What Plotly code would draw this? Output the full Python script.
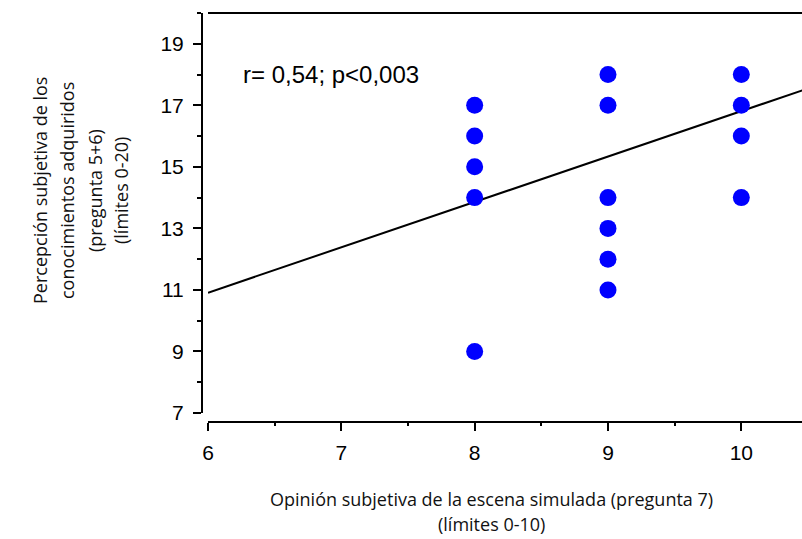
import plotly.graph_objects as go

# Data
opinion_x = [8, 8, 8, 8, 8, 9, 9, 9, 9, 9, 9, 10, 10, 10, 10]
percepcion_y = [17, 16, 15, 14, 9, 18, 17, 14, 13, 12, 11, 18, 17, 16, 14]

# Regression line (y = intercept + slope * x)
trend_slope = 1.475
trend_intercept = 10.91 - 6 * 1.475
trend_x = [6, 10.6]
trend_y = [trend_intercept + trend_slope * v for v in trend_x]

annot_text = "r= 0,54; p<0,003"
x_title_lines = ["Opinión subjetiva de la escena simulada (pregunta 7)", "(límites 0-10)"]
y_title_lines = ["Percepción subjetiva de los", "conocimientos adquiridos", "(pregunta 5+6)", "(límites 0-20)"]

W, H = 802, 539
L, R, T, B = 202, 0, 13, 117
PW, PH = W - L - R, H - T - B


def px(xp):
    return (xp - L) / PW


def py(yp):
    return (H - B - yp) / PH


fig = go.Figure()
fig.add_trace(go.Scatter(x=trend_x, y=trend_y, mode="lines",
                         line=dict(color="black", width=2), hoverinfo="skip", showlegend=False))
fig.add_trace(go.Scatter(x=opinion_x, y=percepcion_y, mode="markers",
                         marker=dict(color="#0000FF", size=17, line=dict(width=0)), showlegend=False))

tickfont = dict(family="Liberation Sans, Arial, sans-serif", size=21, color="black")
titlefont = dict(family="Open Sans, sans-serif", size=18, color="#111111")

annotations = [
    dict(x=6.25, y=18, xref="x", yref="y", text=annot_text, showarrow=False,
         xanchor="left", yanchor="middle",
         font=dict(family="Liberation Sans, Arial, sans-serif", size=24, color="black")),
]
for t, yp in zip(x_title_lines, [499, 524]):
    annotations.append(dict(x=px(491), y=py(yp), xref="paper", yref="paper", text=t,
                            showarrow=False, xanchor="center", yanchor="middle", font=titlefont))
for t, xp in zip(y_title_lines, [40, 67, 95, 121]):
    annotations.append(dict(x=px(xp), y=py(191), xref="paper", yref="paper", text=t,
                            showarrow=False, xanchor="center", yanchor="middle",
                            textangle=-90, font=titlefont))

fig.update_layout(
    width=W, height=H,
    margin=dict(l=L, r=R, t=T, b=B, pad=0),
    paper_bgcolor="white", plot_bgcolor="white",
    xaxis=dict(range=[6, 6 + (W - 208) / 133.33], domain=[(208 - L) / PW, 1],
               anchor="free", position=0,
               showgrid=False, zeroline=False, showline=True, linecolor="black", linewidth=2,
               ticks="outside", ticklen=8, tickwidth=2, tickcolor="black",
               tick0=6, dtick=1, tickfont=tickfont, ticklabelstandoff=4,
               minor=dict(ticks="outside", ticklen=3, tickwidth=2, tickcolor="black", dtick=0.5, showgrid=False)),
    yaxis=dict(range=[7, 20], domain=[9 / PH, 1],
               anchor="free", position=0,
               showgrid=False, zeroline=False, showline=True, linecolor="black", linewidth=2,
               ticks="outside", ticklen=8, tickwidth=2, tickcolor="black",
               tick0=7, dtick=2, tickfont=tickfont, ticklabelstandoff=5,
               minor=dict(ticks="outside", ticklen=4, tickwidth=2, tickcolor="black", dtick=1, showgrid=False)),
    shapes=[dict(type="line", xref="x domain", yref="y domain", x0=0, x1=1, y0=1, y1=1,
                 line=dict(color="black", width=2))],
    annotations=annotations,
)

fig.write_html("out.html", config={"displayModeBar": False},
               post_script="document.body.style.margin='0';document.body.style.overflow='hidden';")
